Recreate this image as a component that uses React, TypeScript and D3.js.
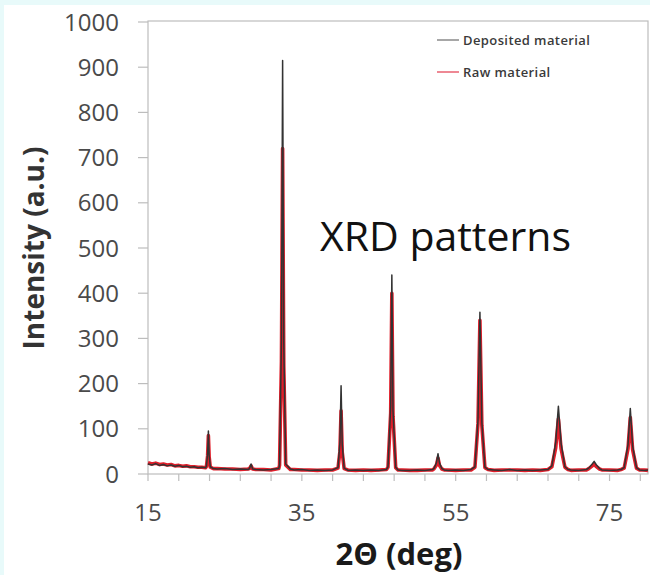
import React from "react";
import * as d3 from "d3";

const twoTheta = [
  15, 15.5, 16, 16.5, 17, 17.5, 18, 18.5, 19, 19.5, 20, 20.5, 21, 21.5, 22, 22.5,
  22.6, 22.75, 22.85, 22.95, 23.1, 23.5, 24, 25, 26, 27, 28,
  28.2, 28.4, 28.6, 29, 30, 31, 32,
  32.1, 32.35, 32.5, 32.65, 32.9, 33.5, 34, 35, 36, 37, 38, 39,
  39.7, 39.95, 40.1, 40.25, 40.5, 41, 42, 43, 44, 45, 46,
  46.2, 46.55, 46.7, 46.85, 47.2, 47.5, 48, 49, 50, 51, 52,
  52.2, 52.5, 52.7, 52.9, 53.2, 53.5, 54, 55, 56, 57,
  57.5, 57.9, 58.15, 58.4, 58.8, 59.2, 60, 61, 62, 63, 64, 65, 66, 67,
  67.5, 68.0, 68.35, 68.7, 69.2, 69.6, 70, 71, 72,
  72.3, 72.75, 73.0, 73.25, 73.7, 74, 75, 76, 76.5,
  76.9, 77.4, 77.7, 78.0, 78.5, 78.9, 79.5, 80,
];

const deposited = [
  22, 20, 23, 19, 21, 18, 20, 17, 19, 16, 17, 15, 16, 14, 15, 14,
  18, 45, 95, 42, 16, 12, 11, 12, 10, 11, 10,
  12, 22, 11, 10, 9, 10, 12,
  20, 300, 915, 290, 22, 11, 9, 10, 8, 9, 8, 9,
  14, 70, 195, 65, 13, 8, 9, 8, 9, 8, 10,
  16, 150, 440, 140, 15, 9, 8, 8, 9, 8, 10,
  13, 25, 45, 24, 12, 9, 8, 9, 8, 10,
  16, 120, 358, 115, 15, 10, 9, 8, 10, 8, 9, 8, 9, 10,
  18, 70, 150, 68, 16, 10, 9, 8, 10,
  13, 22, 28, 21, 12, 9, 8, 9, 10,
  14, 65, 145, 62, 14, 9, 8, 9,
];

const raw = [
  25, 22, 24, 21, 22, 20, 21, 18, 19, 17, 18, 16, 16, 15, 15, 14,
  17, 40, 85, 38, 15, 12, 12, 11, 11, 10, 11,
  12, 18, 11, 10, 10, 9, 12,
  19, 250, 720, 240, 20, 10, 10, 9, 9, 8, 9, 9,
  13, 50, 140, 48, 12, 9, 8, 9, 8, 9, 10,
  15, 135, 400, 128, 14, 9, 9, 8, 8, 9, 9,
  12, 20, 35, 19, 11, 9, 9, 8, 9, 9,
  15, 112, 340, 108, 14, 10, 8, 9, 9, 9, 8, 9, 8, 10,
  16, 58, 122, 56, 15, 10, 8, 9, 9,
  12, 18, 22, 17, 11, 9, 9, 8, 10,
  13, 56, 125, 54, 13, 9, 9, 8,
];

const yTicks = [0, 100, 200, 300, 400, 500, 600, 700, 800, 900, 1000];
const xLabelTicks = [15, 35, 55, 75];
const xMinorTicks = [15, 19, 23, 27, 31, 35, 39, 43, 47, 51, 55, 59, 63, 67, 71, 75, 79];
const seriesNames = ["Deposited material", "Raw material"];

const W = 650;
const H = 575;
const FONT = "'Open Sans', 'DejaVu Sans', sans-serif";

export default function App() {
  const x = d3.scaleLinear().domain([15, 80]).range([148, 648]);
  const y = d3.scaleLinear().domain([0, 1000]).range([474, 22]);

  const line = d3
    .line<number>()
    .x((_, i) => x(twoTheta[i]))
    .y((d) => y(d));

  const axisColor = "#bdbdbd";

  return (
    <svg
      width={W}
      height={H}
      style={{ position: "absolute", left: 0, top: 0, display: "block" }}
      xmlns="http://www.w3.org/2000/svg"
    >
      <rect x={0} y={0} width={W} height={H} fill="#e8fafa" />
      <rect x={4} y={5} width={W - 4} height={H - 5} fill="#ffffff" />

      {/* plot frame */}
      <rect
        x={x(15)}
        y={y(1000) - 1}
        width={x(80) - x(15)}
        height={y(0) - y(1000) + 1}
        fill="none"
        stroke={axisColor}
        strokeWidth={1.2}
      />

      {/* y ticks */}
      {yTicks.map((t) => (
        <g key={"y" + t}>
          <line x1={138} x2={148} y1={y(t)} y2={y(t)} stroke={axisColor} strokeWidth={1.2} />
          <text
            x={119}
            y={y(t)}
            dy="0.36em"
            textAnchor="end"
            fontFamily={FONT}
            fontSize={24}
            fill="#4a4a4a"
          >
            {t}
          </text>
        </g>
      ))}

      {/* x ticks */}
      {xMinorTicks.map((t) => (
        <line
          key={"xm" + t}
          x1={x(t)}
          x2={x(t)}
          y1={y(0)}
          y2={y(0) + 7}
          stroke={axisColor}
          strokeWidth={1.2}
        />
      ))}
      {xLabelTicks.map((t) => (
        <text
          key={"xl" + t}
          x={x(t)}
          y={521}
          textAnchor="middle"
          fontFamily={FONT}
          fontSize={24}
          fill="#4a4a4a"
        >
          {t}
        </text>
      ))}

      {/* data */}
      <path d={line(raw) || ""} fill="none" stroke="#e01e2a" strokeWidth={3.6} strokeLinejoin="round" />
      <path d={line(deposited) || ""} fill="none" stroke="#333333" strokeWidth={1.5} strokeLinejoin="round" />

      {/* legend */}
      <line x1={437} x2={459} y1={40} y2={40} stroke="#8a8a8a" strokeWidth={1.5} />
      <text x={463} y={40} dy="0.35em" fontFamily={FONT} fontSize={13} fontWeight={600} letterSpacing={0.4} fill="#3a3a3a">
        {seriesNames[0]}
      </text>
      <line x1={437} x2={459} y1={72} y2={72} stroke="#e86070" strokeWidth={1.5} />
      <text x={463} y={72} dy="0.35em" fontFamily={FONT} fontSize={13} fontWeight={600} letterSpacing={0.4} fill="#3a3a3a">
        {seriesNames[1]}
      </text>

      {/* annotation */}
      <text x={320} y={251} fontFamily={FONT} fontSize={41} fill="#111111">
        XRD patterns
      </text>

      {/* axis titles */}
      <text
        transform={`translate(44, 248) rotate(-90)`}
        textAnchor="middle"
        fontFamily={FONT}
        fontSize={28}
        fontWeight="bold"
        fill="#333333"
      >
        Intensity (a.u.)
      </text>
      <text
        x={399}
        y={565}
        textAnchor="middle"
        fontFamily={FONT}
        fontSize={31}
        fontWeight="bold"
        fill="#1a1a1a"
      >
        2Θ (deg)
      </text>
    </svg>
  );
}
